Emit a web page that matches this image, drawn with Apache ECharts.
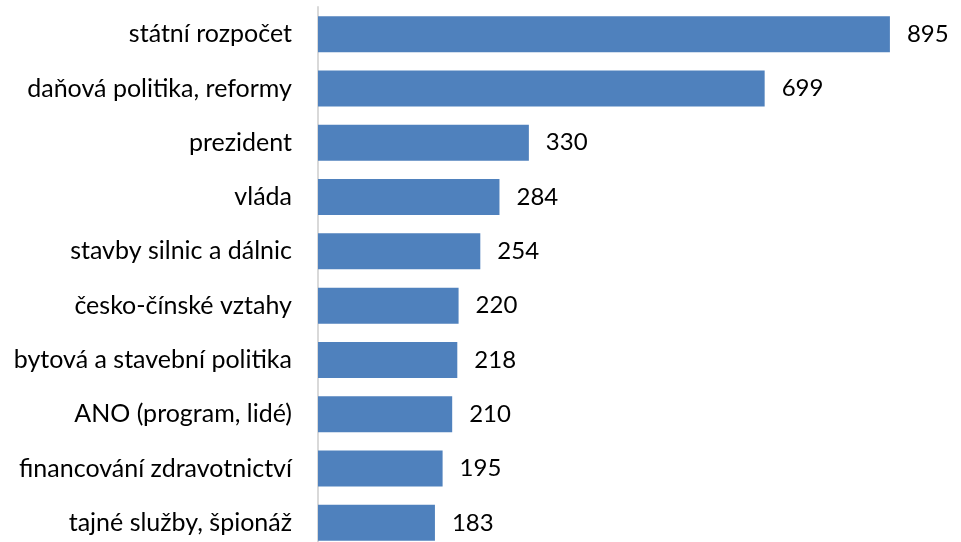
<!DOCTYPE html>
<html>
<head>
<meta charset="utf-8">
<script src="https://cdn.jsdelivr.net/npm/echarts@6/dist/echarts.min.js"></script>
<style>
  html, body { margin: 0; padding: 0; background: #fff; overflow: hidden; }
  #chart { width: 961px; height: 560px; }
</style>
</head>
<body>
<div id="chart"></div>
<script>
// pořadí shora dolů
const categories = [
  'státní rozpočet',
  'daňová politika, reformy',
  'prezident',
  'vláda',
  'stavby silnic a dálnic',
  'česko-čínské vztahy',
  'bytová a stavební politika',
  'ANO (program, lidé)',
  'financování zdravotnictví',
  'tajné služby, špionáž'
]
const values = [895, 699, 330, 284, 254, 220, 218, 210, 195, 183]

// graf je dole oříznutý stejně jako předloha
const chart = echarts.init(document.getElementById('chart'))

chart.setOption({
  backgroundColor: '#fff',
  animation: false,
  grid: { left: 318, right: 4, top: 7, height: 543 },
  xAxis: {
    type: 'value',
    min: 0, max: 1000,
    show: false
  },
  yAxis: {
    type: 'category',
    data: categories,
    inverse: true,
    axisTick: { show: false },
    axisLine: { lineStyle: { color: '#d9d9d9', width: 2 } },
    axisLabel: {
      color: '#000',
      fontSize: 25,
      fontFamily: 'Lato',
      margin: 26
    }
  },
  series: [{
    type: 'bar',
    data: values,
    barWidth: 36,
    itemStyle: { color: '#4f81bd' },
    label: {
      show: true,
      position: 'right',
      distance: 17,
      color: '#000',
      fontSize: 24,
      fontFamily: 'Lato'
    }
  }]
})
</script>
</body>
</html>
